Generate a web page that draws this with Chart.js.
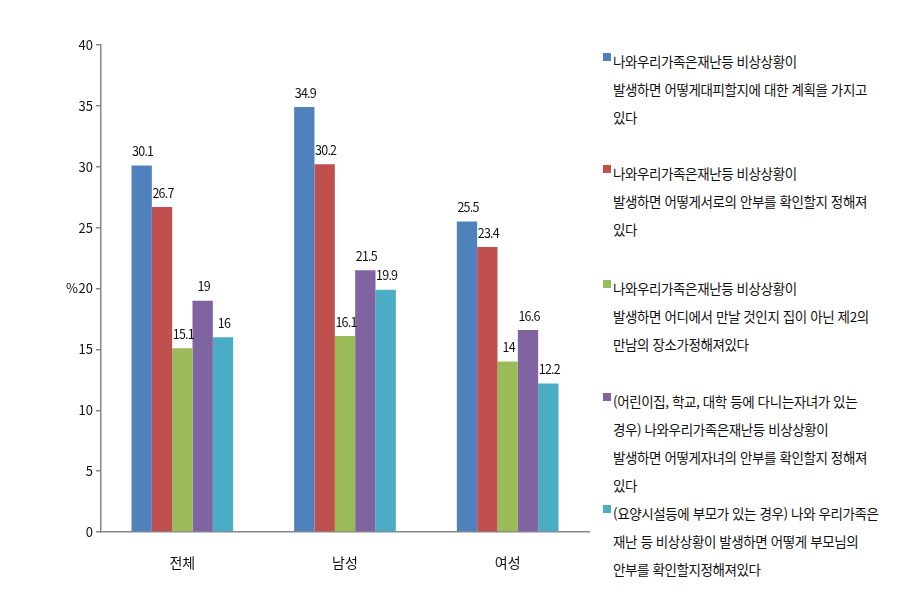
<!DOCTYPE html>
<html lang="ko">
<head>
<meta charset="UTF-8">
<title>재난 대비 계획</title>
<script src="https://cdn.jsdelivr.net/npm/chart.js"></script>
<style>
    body { margin: 0; background: #fff; font-family: "Noto Sans CJK KR", sans-serif; }
    .wrap { position: relative; width: 916px; height: 596px; }
    .chart-box { position: absolute; left: 0; top: 0; width: 592px; height: 596px; }
    .legend-item { position: absolute; left: 603px; font-size: 13.5px; letter-spacing: -0.4px; color: #111; line-height: 28px; }
    .legend-item .box { position: absolute; left: 0; top: 6px; width: 8px; height: 8px; }
    .legend-item .txt { margin-left: 10px; white-space: nowrap; }
</style>
</head>
<body>
<div class="wrap">
    <div class="chart-box"><canvas id="chart"></canvas></div>
    <div id="legend"></div>
</div>
<script>
    // categories and values
    const categories = ['전체', '남성', '여성'];
    const seriesLabels = [
        ['나와우리가족은재난등 비상상황이', '발생하면 어떻게대피할지에 대한 계획을 가지고', '있다'],
        ['나와우리가족은재난등 비상상황이', '발생하면 어떻게서로의 안부를 확인할지 정해져', '있다'],
        ['나와우리가족은재난등 비상상황이', '발생하면 어디에서 만날 것인지 집이 아닌 제2의', '만남의 장소가정해져있다'],
        ['(어린이집, 학교, 대학 등에 다니는자녀가 있는', '경우) 나와우리가족은재난등 비상상황이', '발생하면 어떻게자녀의 안부를 확인할지 정해져', '있다'],
        ['(요양시설등에 부모가 있는 경우) 나와 우리가족은', '재난 등 비상상황이 발생하면 어떻게 부모님의', '안부를 확인할지정해져있다']
    ];
    const evacPlan = [30.1, 34.9, 25.5];
    const checkSafety = [26.7, 30.2, 23.4];
    const meetingPlace = [15.1, 16.1, 14];
    const childSafety = [19, 21.5, 16.6];
    const parentSafety = [16, 19.9, 12.2];
    const yTicks = [0, 5, 10, 15, 20, 25, 30, 35, 40];

    const colors = ['#4F81BD', '#C0504D', '#9BBB59', '#8064A2', '#4BACC6'];
    const allSeries = [evacPlan, checkSafety, meetingPlace, childSafety, parentSafety];
    const legendTops = [47, 159, 274, 387, 499];

    const datasets = allSeries.map((vals, i) => ({
        label: seriesLabels[i].join(' '),
        data: vals,
        backgroundColor: colors[i],
        borderWidth: 0,
        barPercentage: 1,
        categoryPercentage: 0.625
    }));

    // value labels above bars
    const valueLabels = {
        id: 'valueLabels',
        afterDatasetsDraw(chart) {
            const ctx = chart.ctx;
            ctx.save();
            ctx.font = '12.5px "Noto Sans CJK KR", sans-serif';
            ctx.fillStyle = '#111';
            ctx.textAlign = 'center';
            ctx.textBaseline = 'middle';
            if ('letterSpacing' in ctx) ctx.letterSpacing = '-0.8px';
            chart.data.datasets.forEach((ds, i) => {
                chart.getDatasetMeta(i).data.forEach((bar, j) => {
                    ctx.fillText(String(ds.data[j]), bar.x + 1, bar.y - 14);
                });
            });
            ctx.restore();
        }
    };

    // "%" label left of the y axis
    const unitLabel = {
        id: 'unitLabel',
        afterDraw(chart) {
            const ctx = chart.ctx;
            const y = chart.scales.y.getPixelForValue(20);
            ctx.save();
            ctx.font = '13px "Noto Sans CJK KR", sans-serif';
            ctx.fillStyle = '#111';
            ctx.textAlign = 'left';
            ctx.textBaseline = 'middle';
            ctx.fillText('%', 66, y);
            ctx.restore();
        }
    };

    new Chart(document.getElementById('chart'), {
        type: 'bar',
        data: { labels: categories, datasets: datasets },
        options: {
            responsive: true,
            maintainAspectRatio: false,
            animation: false,
            layout: { padding: { top: 45, right: 3, left: 0, bottom: 0 } },
            plugins: {
                legend: { display: false },
                tooltip: { enabled: false }
            },
            scales: {
                x: {
                    grid: { display: false },
                    border: { color: '#868686', width: 1.5 },
                    ticks: {
                        color: '#111',
                        font: { family: '"Noto Sans CJK KR", sans-serif', size: 14 },
                        padding: 14
                    },
                    afterFit(scale) { scale.height = 64; }
                },
                y: {
                    min: 0,
                    max: 40,
                    afterBuildTicks(scale) { scale.ticks = yTicks.map(v => ({ value: v })); },
                    grid: { drawOnChartArea: false, drawTicks: true, tickLength: 5, color: '#868686', lineWidth: 1.5 },
                    border: { color: '#868686', width: 1.5 },
                    ticks: {
                        color: '#111',
                        font: { family: '"Noto Sans CJK KR", sans-serif', size: 13 },
                        padding: 3
                    },
                    afterFit(scale) { scale.width = 101; }
                }
            }
        },
        plugins: [valueLabels, unitLabel]
    });

    // HTML legend
    const legend = document.getElementById('legend');
    seriesLabels.forEach((lines, i) => {
        const item = document.createElement('div');
        item.className = 'legend-item';
        item.style.top = legendTops[i] + 'px';
        item.innerHTML = `<span class="box" style="background:${colors[i]}"></span>` +
            `<div class="txt">${lines.join('<br>')}</div>`;
        legend.appendChild(item);
    });
</script>
</body>
</html>
